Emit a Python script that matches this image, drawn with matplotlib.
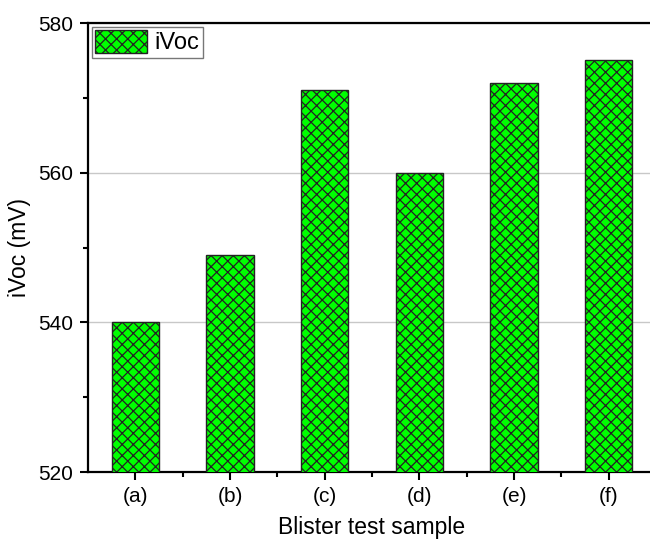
import matplotlib
matplotlib.use("Agg")
import matplotlib.pyplot as plt
import numpy as np

# данные
samples = ['(a)', '(b)', '(c)', '(d)', '(e)', '(f)']
ivoc = [540, 549, 571, 560, 572, 575]

plt.rcParams['font.family'] = ['Liberation Sans', 'DejaVu Sans']
plt.rcParams['hatch.linewidth'] = 0.9

fig = plt.figure(figsize=(6.5, 5.39), dpi=100)
ax = fig.add_axes([0.1354, 0.1243, 0.874, 0.833])

x = np.arange(len(samples))
ax.bar(x, ivoc, width=0.5, color='#00ff00', edgecolor='#222222', linewidth=1.0,
       hatch='xxx', label='iVoc', zorder=3)

ax.set_xlim(-0.5, 5.5)
ax.set_ylim(520, 580)
ax.set_yticks([520, 540, 560, 580])
ax.set_yticks([530, 550, 570], minor=True)
ax.set_xticks(x)
ax.set_xticks(x[:-1] + 0.5, minor=True)
ax.set_xticklabels(samples)
ax.grid(axis='y', color='#c8c8c8', linewidth=1.0, zorder=0)

for s in ax.spines.values():
    s.set_linewidth(1.6)
ax.tick_params(which='major', direction='out', length=6, width=1.5, labelsize=15, pad=5)
ax.tick_params(which='minor', direction='out', length=3.5, width=1.5)

ax.set_xlabel('Blister test sample', fontsize=16.5, labelpad=7)
ax.set_ylabel('iVoc (mV)', fontsize=16.5, labelpad=5)

leg = ax.legend(loc='upper left', fontsize=17, fancybox=False, edgecolor='#777777',
                handlelength=2.2, handleheight=1.1, borderpad=0.15, borderaxespad=0.15,
                handletextpad=0.3, framealpha=1)
leg.get_frame().set_linewidth(1.0)

fig.savefig('out.png', dpi=100)
